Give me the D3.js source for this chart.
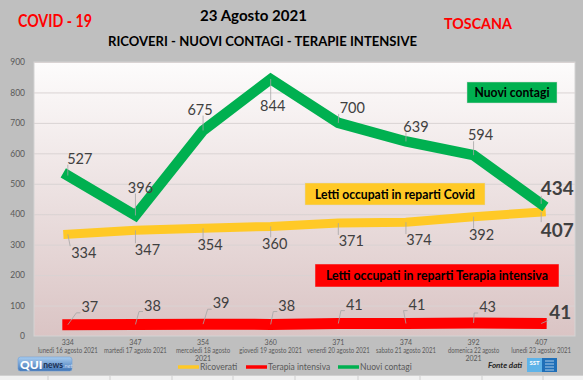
<!DOCTYPE html>
<html><head><meta charset="utf-8">
<script src="https://cdn.jsdelivr.net/npm/d3@7"></script>
<style>html,body{margin:0;padding:0;background:#bfbfbf;} svg{display:block;font-family:Lato,"Open Sans",sans-serif;}</style>
</head><body>
<svg id="c" width="583" height="380"></svg>
<script>
// ---- data ----
const dates = ["lunedì 16 agosto 2021","martedì 17 agosto 2021","mercoledì 18 agosto 2021","giovedì 19 agosto 2021","venerdì 20 agosto 2021","sabato 21 agosto 2021","domenica 22 agosto 2021","lunedì 23 agosto 2021"];
const ricoverati = [334,347,354,360,371,374,392,407];
const terapiaIntensiva = [37,38,39,38,41,41,43,41];
const nuoviContagi = [527,396,675,844,700,639,594,434];
const yTicks = [0,100,200,300,400,500,600,700,800,900];
const seriesNames = ["Ricoverati","Terapia intensiva","Nuovi contagi"];

// ---- layout (label offsets from the point, px) ----
const offGreen  = [[12,-17],[5,-28],[-3,-21],[2,27],[14,-15],[10,-15],[7,-20],[16,-16]];
const offYellow = [[16,18],[12,19],[7,17],[4,17],[13,18],[13,18],[8,18],[16,18]];
const offRed    = [[22,-18],[17,-19],[18,-21],[16,-19],[16,-19],[11,-19],[14,-16],[19,-11]];

const svg = d3.select("#c");
const W=583,H=380, L=34,R=575,T=62,B=336;
const GREEN="#00b050", YELLOW="#ffc926", RED="#ff0000";

const defs = svg.append("defs");
const g1 = defs.append("linearGradient").attr("id","plotbg").attr("x1",0).attr("y1",0).attr("x2",0).attr("y2",1);
g1.append("stop").attr("offset","0%").attr("stop-color","#fdfcfc");
g1.append("stop").attr("offset","100%").attr("stop-color","#dac4c4");
const g2 = defs.append("linearGradient").attr("id","qui").attr("x1",0).attr("y1",0).attr("x2",0).attr("y2",1);
g2.append("stop").attr("offset","0%").attr("stop-color","#a9cdf0");
g2.append("stop").attr("offset","100%").attr("stop-color","#3f74b5");

svg.append("rect").attr("width",W).attr("height",H).attr("fill","#bfbfbf");
svg.append("rect").attr("x",L).attr("y",T).attr("width",R-L).attr("height",B-T)
  .attr("fill","url(#plotbg)").attr("stroke","#d4d4d4").attr("stroke-width",1);

const x = d3.scaleBand().domain(d3.range(dates.length)).range([L,R]);
const cx = i => x(i)+x.bandwidth()/2;
const y = d3.scaleLinear().domain([0,900]).range([B,T]);

// gridlines
svg.append("g").attr("transform",`translate(${L},0)`)
  .call(d3.axisLeft(y).tickValues(yTicks.slice(1)).tickSize(-(R-L)).tickFormat(""))
  .call(g=>g.select(".domain").remove())
  .call(g=>g.selectAll("line").attr("stroke","#d9d3d3").attr("stroke-width",1));
// y labels
svg.append("g").attr("transform",`translate(${L},0)`)
  .call(d3.axisLeft(y).tickValues(yTicks).tickSize(0).tickPadding(9))
  .call(g=>g.select(".domain").remove())
  .call(g=>g.selectAll("text").attr("fill","#595959").style("font-size","8.5px").style("font-family","Lato"));

// x labels
const xa = svg.append("g").attr("transform",`translate(0,${B})`)
  .call(d3.axisBottom(x).tickSize(0).tickFormat(""));
xa.select(".domain").remove();
xa.selectAll(".tick").each(function(d){
  const t = d3.select(this).append("text").attr("fill","#595959").attr("text-anchor","middle")
    .style("font-size","7px").style("font-family","Lato");
  const s = dates[d];
  let lines = [String(ricoverati[d])];
  if (s.length>22){ const k=s.lastIndexOf(" "); lines.push(s.slice(0,k), s.slice(k+1)); } else lines.push(s);
  lines.forEach((ln,j)=>{
    t.append("tspan").attr("x",0).attr("y",9+j*8).text(ln);
  });
  t.selectAll("tspan").each(function(){
    const n=this.getComputedTextLength(); const tgt=this.textContent.length*2.85;
    if(n>tgt && this.textContent.length>6) d3.select(this).attr("textLength",tgt).attr("lengthAdjust","spacingAndGlyphs");
  });
});

// lines
const line = vals => d3.line().x((d,i)=>cx(i)).y(d=>y(d))(vals);
function drawSeries(vals,color,w){
  svg.append("path").attr("d",line(vals)).attr("fill","none").attr("stroke",color)
    .attr("stroke-width",w).attr("stroke-linejoin","miter").attr("stroke-linecap","square");
}
drawSeries(ricoverati,YELLOW,9);
drawSeries(terapiaIntensiva,RED,11);
drawSeries(nuoviContagi,GREEN,10.5);

// data labels with leader lines
function labels(vals,offs){
  const n=vals.length;
  vals.forEach((v,i)=>{
    const px=cx(i), py=y(v);
    const last = i===n-1;
    const lx=px+offs[i][0], ly=py+offs[i][1];
    const fs = last?19:14.5;
    const t = svg.append("text").attr("x",lx).attr("y",ly).attr("dy","0.36em")
      .attr("text-anchor","middle").attr("fill","#404040")
      .style("font-size",fs+"px").style("font-weight",last?"bold":"normal").text(v);
    const bb = t.node().getBBox();
    const hw = bb.width/2+1, hh = fs*0.42;
    const ex = Math.max(lx-hw, Math.min(px, lx+hw));
    const ey = Math.max(ly-hh, Math.min(py, ly+hh));
    const dist = Math.hypot(ex-px,ey-py);
    if (dist>6){
      let pts=[[px,py],[ex,ey]];
      if (ex===lx-hw && Math.abs(ey-ly)<hh){ pts=[[px,py],[ex-4,ey],[ex,ey]]; }
      svg.append("path").attr("d",d3.line()(pts)).attr("fill","none")
        .attr("stroke","#a6a6a6").attr("stroke-width",0.8);
    }
  });
}
labels(nuoviContagi,offGreen);
labels(ricoverati,offYellow);
labels(terapiaIntensiva,offRed);

// callout boxes
function box(x0,y0,w,h,fill,txt,tw){
  svg.append("rect").attr("x",x0).attr("y",y0).attr("width",w).attr("height",h)
    .attr("fill",fill).attr("stroke","#d9d9d9").attr("stroke-opacity",0.6).attr("stroke-width",0.8);
  svg.append("text").attr("x",x0+w/2).attr("y",y0+h/2).attr("dy","0.36em").attr("text-anchor","middle")
    .attr("fill","#000").style("font-size","12.5px").style("font-weight","bold")
    .attr("textLength",tw).attr("lengthAdjust","spacingAndGlyphs").text(txt);
}
box(467,82,90,21,GREEN,"Nuovi contagi",75);
box(305,183,180,22,YELLOW,"Letti occupati in reparti Covid",160);
box(315,264,244,23,RED,"Letti occupati in reparti Terapia intensiva",222);

// titles
function title(txt,xc,yc,fs,col,tw){
  svg.append("text").attr("x",xc).attr("y",yc).attr("dy","0.36em").attr("text-anchor","middle")
    .attr("fill",col).style("font-size",fs+"px").style("font-weight","bold")
    .attr("textLength",tw).attr("lengthAdjust","spacingAndGlyphs").text(txt);
}
title("COVID - 19",55,21,16.5,"#ff0000",74);
title("TOSCANA",478,23,16,"#ff0000",68);
title("23 Agosto 2021",253.5,15,15.5,"#000",107);
title("RICOVERI - NUOVI CONTAGI - TERAPIE INTENSIVE",262.5,41,13.5,"#000",309);

// legend
const legColors=[YELLOW,RED,GREEN];
const legX=[178,246,338];
seriesNames.forEach((nm,i)=>{
  svg.append("line").attr("x1",legX[i]).attr("x2",legX[i]+21).attr("y1",367).attr("y2",367)
    .attr("stroke",legColors[i]).attr("stroke-width",3.5);
  svg.append("text").attr("x",legX[i]+22).attr("y",367).attr("dy","0.36em").attr("fill","#595959")
    .style("font-size","8.5px").text(nm);
});

// Fonte dati
svg.append("text").attr("x",488).attr("y",365).attr("dy","0.36em").attr("fill","#262626")
  .style("font-size","8px").style("font-style","italic").style("font-weight","bold").text("Fonte dati");
// SST logo
svg.append("rect").attr("x",527).attr("y",358).attr("width",15).attr("height",14).attr("fill","#5fb3e8");
svg.append("text").attr("x",534.5).attr("y",363).attr("dy","0.36em").attr("text-anchor","middle").attr("fill","#fff")
  .style("font-size","6px").style("font-weight","bold").text("SST");
svg.append("rect").attr("x",542).attr("y",358).attr("width",15).attr("height",14).attr("fill","#1f6fb8");
[361,364,367,370].forEach(yy=>svg.append("line").attr("x1",545).attr("x2",554).attr("y1",yy).attr("y2",yy)
  .attr("stroke","#cfe3f5").attr("stroke-width",0.8));

// QUI news logo
svg.append("rect").attr("x",18).attr("y",357).attr("width",54).attr("height",14).attr("rx",2.5)
  .attr("fill","url(#qui)").attr("stroke","#6f9fd6").attr("stroke-width",0.6);
const qt = svg.append("text").attr("x",20).attr("y",369);
qt.append("tspan").attr("fill","#fff").style("font-size","12px").style("font-weight","900").text("QUI");
qt.append("tspan").attr("fill","#1c2f52").style("font-size","8.5px").style("font-weight","bold").attr("dx",1).attr("dy",-1).text("news");
qt.append("tspan").attr("fill","#c9dcf2").style("font-size","6px").style("font-style","italic").text(".net");

// bottom strip
svg.append("rect").attr("x",0).attr("y",375.5).attr("width",W).attr("height",5).attr("fill","#f1f1f1");
svg.append("line").attr("x1",0).attr("x2",W).attr("y1",375.5).attr("y2",375.5).attr("stroke","#d0d0d0");
[48,110,172,233,295,358,420,482,543].forEach(xx=>svg.append("line").attr("x1",xx).attr("x2",xx)
  .attr("y1",375.5).attr("y2",380).attr("stroke","#cfcfcf"));
</script>
</body></html>
